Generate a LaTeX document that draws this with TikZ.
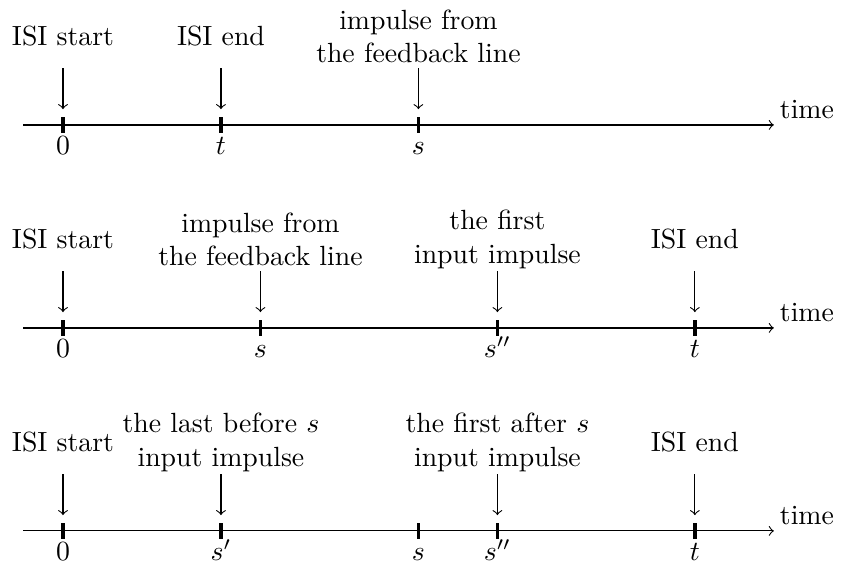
\documentclass[tikz,border=0pt]{standalone}
\begin{document}
\begin{tikzpicture}[x=0.5cm,y=1cm,
	tickmark/.style={very thick},
	ticklabel/.style={anchor=base},
	eventlabel/.style={align=center},
	timelabel/.style={anchor=south west,inner sep=2pt}]
	\useasboundingbox (-1.595,1.582) rectangle (19.70,-5.62);
	% ISI ends before the feedback impulse
	\coordinate (ax1a) at (-1,0);
	\coordinate (ax1b) at (18,0);
	\draw[->] (ax1a) -- (ax1b);
	\node[timelabel] (time1) at (ax1b) {time};
	\draw[tickmark] (0,0.1) -- (0,-0.1);
	\draw[tickmark] (4,0.1) -- (4,-0.1);
	\draw[tickmark] (9,0.1) -- (9,-0.1);
	\node[ticklabel] (zero1) at (0,-0.38) {$0$};
	\node[ticklabel] (t1) at (4,-0.38) {$t$};
	\node[ticklabel] (s1) at (9,-0.38) {$s$};
	\node[eventlabel] (start1) at (0,1.12) {ISI start};
	\node[eventlabel] (end1) at (4,1.12) {ISI end};
	\node[eventlabel] (fb1) at (9,1.12) {impulse from\\the feedback line};
	\coordinate (ps1) at (0,0.72); \coordinate (qs1) at (0,0.2);
	\coordinate (pe1) at (4,0.72); \coordinate (qe1) at (4,0.2);
	\coordinate (pf1) at (9,0.72); \coordinate (qf1) at (9,0.2);
	\draw[->] (ps1) -- (qs1);
	\draw[->] (pe1) -- (qe1);
	\draw[->] (pf1) -- (qf1);
	
	% feedback impulse inside the ISI
	\begin{scope}[yshift=-2.57cm]
	\coordinate (ax2a) at (-1,0);
	\coordinate (ax2b) at (18,0);
	\draw[->] (ax2a) -- (ax2b);
	\node[timelabel] (time2) at (ax2b) {time};
	\draw[tickmark] (0,0.1) -- (0,-0.1);
	\draw[tickmark] (5,0.1) -- (5,-0.1);
	\draw[tickmark] (11,0.1) -- (11,-0.1);
	\draw[tickmark] (16,0.1) -- (16,-0.1);
	\node[ticklabel] (zero2) at (0,-0.38) {$0$};
	\node[ticklabel] (s2) at (5,-0.38) {$s$};
	\node[ticklabel] (ss2) at (11,-0.38) {$s''$};
	\node[ticklabel] (t2) at (16,-0.38) {$t$};
	\node[eventlabel] (start2) at (0,1.12) {ISI start};
	\node[eventlabel] (fb2) at (5,1.12) {impulse from\\the feedback line};
	\node[eventlabel] (first2) at (11,1.12) {the first\\input impulse};
	\node[eventlabel] (end2) at (16,1.12) {ISI end};
	\coordinate (ps2) at (0,0.72); \coordinate (qs2) at (0,0.2);
	\coordinate (pf2) at (5,0.72); \coordinate (qf2) at (5,0.2);
	\coordinate (pi2) at (11,0.72); \coordinate (qi2) at (11,0.2);
	\coordinate (pe2) at (16,0.72); \coordinate (qe2) at (16,0.2);
	\draw[->] (ps2) -- (qs2);
	\draw[->] (pf2) -- (qf2);
	\draw[->] (pi2) -- (qi2);
	\draw[->] (pe2) -- (qe2);
	\end{scope}
	
	% input impulses around s
	\begin{scope}[yshift=-5.14cm]
	\coordinate (ax3a) at (-1,0);
	\coordinate (ax3b) at (18,0);
	\draw[->] (ax3a) -- (ax3b);
	\node[timelabel] (time3) at (ax3b) {time};
	\draw[tickmark] (0,0.1) -- (0,-0.1);
	\draw[tickmark] (4,0.1) -- (4,-0.1);
	\draw[tickmark] (9,0.1) -- (9,-0.1);
	\draw[tickmark] (11,0.1) -- (11,-0.1);
	\draw[tickmark] (16,0.1) -- (16,-0.1);
	\node[ticklabel] (zero3) at (0,-0.38) {$0$};
	\node[ticklabel] (sp3) at (4,-0.38) {$s'$};
	\node[ticklabel] (s3) at (9,-0.38) {$s$};
	\node[ticklabel] (ss3) at (11,-0.38) {$s''$};
	\node[ticklabel] (t3) at (16,-0.38) {$t$};
	\node[eventlabel] (start3) at (0,1.12) {ISI start};
	\node[eventlabel] (last3) at (4,1.12) {the last before $s$\\input impulse};
	\node[eventlabel] (first3) at (11,1.12) {the first after $s$\\input impulse};
	\node[eventlabel] (end3) at (16,1.12) {ISI end};
	\coordinate (ps3) at (0,0.72); \coordinate (qs3) at (0,0.2);
	\coordinate (pl3) at (4,0.72); \coordinate (ql3) at (4,0.2);
	\coordinate (pi3) at (11,0.72); \coordinate (qi3) at (11,0.2);
	\coordinate (pe3) at (16,0.72); \coordinate (qe3) at (16,0.2);
	\draw[->] (ps3) -- (qs3);
	\draw[->] (pl3) -- (ql3);
	\draw[->] (pi3) -- (qi3);
	\draw[->] (pe3) -- (qe3);
	\end{scope}
\end{tikzpicture}
\end{document}
